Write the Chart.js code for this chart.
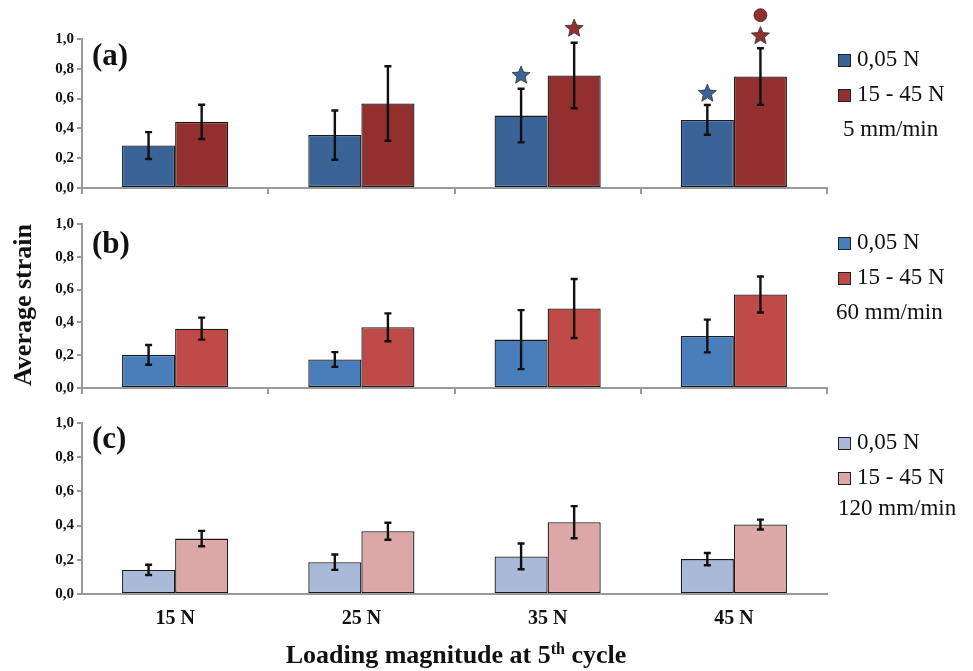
<!DOCTYPE html>
<html>
<head>
<meta charset="utf-8">
<script src="https://cdn.jsdelivr.net/npm/chart.js@4.4.1/dist/chart.umd.min.js"></script>
<style>
body { margin: 0; background: #fff; }
#wrap { position: relative; width: 973px; height: 671px; font-family: "Liberation Serif", "Times New Roman", serif; color: #111; }
canvas { position: absolute; left: 0; }
.panel { position: absolute; left: 92px; font-size: 31px; font-weight: bold; line-height: 1; }
.legend { position: absolute; left: 838px; font-size: 23px; line-height: 35px; white-space: nowrap; }
.legend .box { display: inline-block; width: 11px; height: 11px; border: 1px solid #222; margin-right: 6px; vertical-align: -1px; }
.speed { position: absolute; font-size: 23px; line-height: 1; white-space: nowrap; }
#ytitle { position: absolute; left: 23px; top: 305px; transform: translate(-50%, -50%) rotate(-90deg); font-size: 26px; font-weight: bold; white-space: nowrap; }
#xtitle { position: absolute; left: 456px; top: 655px; transform: translate(-50%, -50%); font-size: 26px; font-weight: bold; white-space: nowrap; }
#xtitle sup { font-size: 16px; }
</style>
</head>
<body>
<div id="wrap">
  <canvas id="chartA" width="973" height="200" style="top:0"></canvas>
  <canvas id="chartB" width="973" height="200" style="top:200px"></canvas>
  <canvas id="chartC" width="973" height="271" style="top:400px"></canvas>
  <div class="panel" style="top:39px">(a)</div>
  <div class="panel" style="top:227px">(b)</div>
  <div class="panel" style="top:422px">(c)</div>
  <div class="legend" id="legA" style="top:41px"></div>
  <div class="legend" id="legB" style="top:224px"></div>
  <div class="legend" id="legC" style="top:424px"></div>
  <div class="speed" style="left:843px;top:117px">5 mm/min</div>
  <div class="speed" style="left:836px;top:300px">60 mm/min</div>
  <div class="speed" style="left:838px;top:496px">120 mm/min</div>
  <div id="ytitle">Average strain</div>
  <div id="xtitle">Loading magnitude at 5<sup>th</sup> cycle</div>
</div>
<script>
const categories = ['15 N', '25 N', '35 N', '45 N'];
const seriesNames = ['0,05 N', '15 - 45 N'];
const tickValues = [0, 0.2, 0.4, 0.6, 0.8, 1.0];

// (a) 5 mm/min
const lowA = [0.285, 0.355, 0.486, 0.457];
const lowErrA = [0.09, 0.165, 0.18, 0.10];
const highA = [0.444, 0.567, 0.755, 0.748];
const highErrA = [0.115, 0.25, 0.22, 0.19];
// significance marks above bars (a): [category index, value, shape]
const lowMarksA = [[2, 0.755, 'star'], [3, 0.634, 'star']];
const highMarksA = [[2, 1.07, 'star'], [3, 1.02, 'star'], [3, 1.16, 'circle']];

// (b) 60 mm/min
const lowB = [0.202, 0.174, 0.295, 0.317];
const lowErrB = [0.06, 0.045, 0.18, 0.10];
const highB = [0.362, 0.37, 0.485, 0.57];
const highErrB = [0.067, 0.085, 0.18, 0.11];

// (c) 120 mm/min
const lowC = [0.141, 0.186, 0.22, 0.204];
const lowErrC = [0.03, 0.045, 0.075, 0.036];
const highC = [0.324, 0.367, 0.42, 0.406];
const highErrC = [0.045, 0.05, 0.094, 0.029];

Chart.defaults.font.family = '"Liberation Serif", "Times New Roman", serif';
Chart.defaults.color = '#111';

function drawStar(ctx, cx, cy, r) {
    ctx.beginPath();
    for (let k = 0; k < 10; k++) {
        const rr = k % 2 ? r * 0.45 : r;
        const a = -Math.PI / 2 + k * Math.PI / 5;
        ctx.lineTo(cx + rr * Math.cos(a), cy + rr * Math.sin(a));
    }
    ctx.closePath();
}

// error bars + significance marks, positioned through the chart's scales
const errorBars = {
    id: 'errorBars',
    afterDatasetsDraw(chart) {
        const ctx = chart.ctx;
        const y = chart.scales.y;
        chart.data.datasets.forEach((ds, di) => {
            const meta = chart.getDatasetMeta(di);
            ctx.save();
            ctx.strokeStyle = '#111';
            ctx.lineWidth = 2.4;
            meta.data.forEach((bar, i) => {
                const v = ds.data[i], e = ds.errors[i];
                const top = y.getPixelForValue(v + e);
                const bot = y.getPixelForValue(v - e);
                ctx.beginPath();
                ctx.moveTo(bar.x, top); ctx.lineTo(bar.x, bot);
                ctx.moveTo(bar.x - 3.5, top); ctx.lineTo(bar.x + 3.5, top);
                ctx.moveTo(bar.x - 3.5, bot); ctx.lineTo(bar.x + 3.5, bot);
                ctx.stroke();
            });
            (ds.marks || []).forEach(([idx, val, shape]) => {
                const bar = meta.data[idx];
                const py = y.getPixelForValue(val);
                ctx.fillStyle = ds.backgroundColor;
                ctx.strokeStyle = '#333';
                ctx.lineWidth = 0.8;
                if (shape === 'star') drawStar(ctx, bar.x, py, 9.5);
                else { ctx.beginPath(); ctx.arc(bar.x, py, 6.5, 0, Math.PI * 2); }
                ctx.fill();
                ctx.stroke();
            });
            ctx.restore();
        });
    }
};

function makeLegend(id, colors) {
    document.getElementById(id).innerHTML = seriesNames.map((n, i) =>
        '<div><span class="box" style="background:' + colors[i] + '"></span>' + n + '</div>').join('');
}

function makePanel(id, canvasH, areaTop, areaBottom, low, lowErr, high, highErr, colors, showX, lowMarks, highMarks) {
    makeLegend(id.replace('chart', 'leg'), colors);
    new Chart(document.getElementById(id).getContext('2d'), {
        type: 'bar',
        data: {
            labels: categories,
            datasets: [
                { label: seriesNames[0], data: low, errors: lowErr, marks: lowMarks,
                  backgroundColor: colors[0], borderColor: '#1a1a1a', borderWidth: 1.3, borderSkipped: false },
                { label: seriesNames[1], data: high, errors: highErr, marks: highMarks,
                  backgroundColor: colors[1], borderColor: '#1a1a1a', borderWidth: 1.3, borderSkipped: false }
            ]
        },
        options: {
            responsive: false,
            animation: false,
            layout: { padding: { top: areaTop, right: 973 - 827, left: 0, bottom: 0 } },
            datasets: { bar: { barPercentage: 1, categoryPercentage: 0.57 } },
            plugins: { legend: { display: false }, tooltip: { enabled: false } },
            scales: {
                x: {
                    afterFit: s => { s.height = canvasH - areaBottom; },
                    border: { color: '#999', width: 2 },
                    grid: { offset: true, drawOnChartArea: false, drawTicks: !showX, tickLength: 6, color: '#999', lineWidth: 2 },
                    ticks: { display: showX, padding: 13, font: { size: 20, weight: 'bold' }, color: '#111' }
                },
                y: {
                    min: 0, max: 1,
                    afterFit: s => { s.width = 82; },
                    afterBuildTicks: s => { s.ticks = tickValues.map(v => ({ value: v })); },
                    border: { color: '#999', width: 2 },
                    grid: { drawOnChartArea: false, tickLength: 5, color: '#999', lineWidth: 2 },
                    ticks: {
                        padding: 3,
                        font: { size: 15, weight: 'bold' },
                        color: '#111',
                        callback: v => v.toFixed(1).replace('.', ',')
                    }
                }
            }
        },
        plugins: [errorBars]
    });
}

makePanel('chartA', 200, 39, 190, lowA, lowErrA, highA, highErrA, ['#3A6498', '#922F2F'], false, lowMarksA, highMarksA);
makePanel('chartB', 200, 24, 189, lowB, lowErrB, highB, highErrB, ['#4A7EBB', '#BE4B48'], false, [], []);
makePanel('chartC', 271, 23, 194, lowC, lowErrC, highC, highErrC, ['#A9BAD8', '#DCA8A7'], true, [], []);
</script>
</body>
</html>
